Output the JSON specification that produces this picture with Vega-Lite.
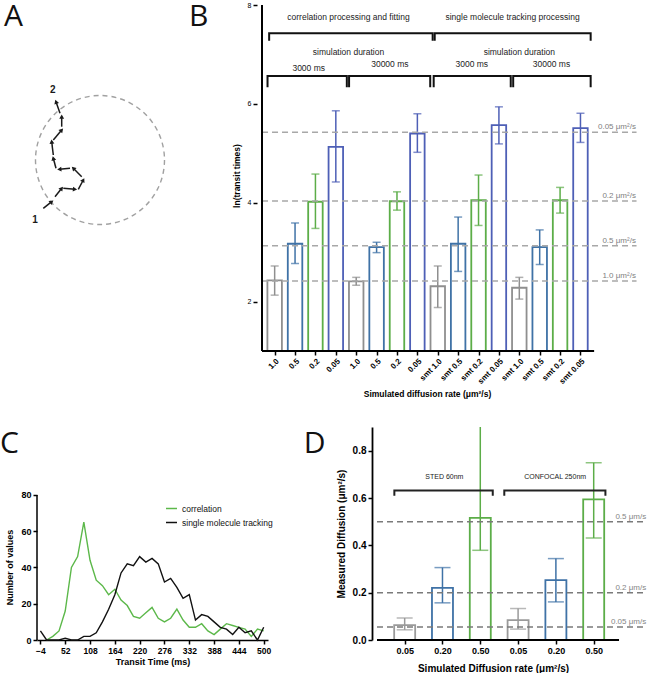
{
"$schema": "https://vega.github.io/schema/vega-lite/v6.json",
"padding": 0,
"autosize": {"type": "pad"},
"bounds": "full",
"spacing": 29,
"resolve": {"scale": {"color": "independent"}},
"config": {
  "view": {"stroke": null},
  "font": "Liberation Sans",
  "axis": {"grid": false, "domainColor": "#000", "domainWidth": 1.8, "tickColor": "#000", "tickWidth": 1.5, "tickSize": 4, "labelColor": "#000", "titleColor": "#000", "titleFontWeight": "bold", "labelPadding": 2, "labelOverlap": false}
},
"datasets": {
  "a_circle": [{"cx": 100, "cy": 160}],
  "a_arrows": [
    {"x1": 43.3, "y1": 208.3, "x2": 51.7, "y2": 201.7, "ang": 52},
    {"x1": 55, "y1": 196.7, "x2": 61.7, "y2": 188.3, "ang": 39},
    {"x1": 63.3, "y1": 188.3, "x2": 75, "y2": 189.3, "ang": 95},
    {"x1": 78.3, "y1": 189.3, "x2": 83.3, "y2": 180, "ang": 28},
    {"x1": 81.7, "y1": 176.7, "x2": 73.3, "y2": 168.3, "ang": -45},
    {"x1": 70, "y1": 168.3, "x2": 59.3, "y2": 169.3, "ang": -95},
    {"x1": 56, "y1": 168.3, "x2": 53.3, "y2": 158.3, "ang": -15},
    {"x1": 53.3, "y1": 155, "x2": 51.7, "y2": 141.7, "ang": -7},
    {"x1": 53.3, "y1": 140, "x2": 61.7, "y2": 130, "ang": 40},
    {"x1": 61.7, "y1": 126.7, "x2": 61.7, "y2": 116.7, "ang": 0},
    {"x1": 60, "y1": 113.3, "x2": 56, "y2": 101.7, "ang": -19}
  ],
  "a_labels": [{"x": 35, "y": 220, "t": "1"}, {"x": 52.7, "y": 90, "t": "2"}],
  "b_bars": [
    {"i": 0, "rate": "1.0", "v": 2.43, "lo": 2.13, "hi": 2.72},
    {"i": 1, "rate": "0.5", "v": 3.17, "lo": 2.77, "hi": 3.59},
    {"i": 2, "rate": "0.2", "v": 4.02, "lo": 3.48, "hi": 4.58},
    {"i": 3, "rate": "0.05", "v": 5.13, "lo": 4.42, "hi": 5.86},
    {"i": 4, "rate": "1.0", "v": 2.41, "lo": 2.33, "hi": 2.49},
    {"i": 5, "rate": "0.5", "v": 3.10, "lo": 2.99, "hi": 3.20},
    {"i": 6, "rate": "0.2", "v": 4.03, "lo": 3.85, "hi": 4.22},
    {"i": 7, "rate": "0.05", "v": 5.40, "lo": 5.02, "hi": 5.80},
    {"i": 8, "rate": "1.0", "v": 2.31, "lo": 1.88, "hi": 2.72},
    {"i": 9, "rate": "0.5", "v": 3.17, "lo": 2.61, "hi": 3.71},
    {"i": 10, "rate": "0.2", "v": 4.05, "lo": 3.54, "hi": 4.56},
    {"i": 11, "rate": "0.05", "v": 5.57, "lo": 5.19, "hi": 5.94},
    {"i": 12, "rate": "1.0", "v": 2.28, "lo": 2.05, "hi": 2.49},
    {"i": 13, "rate": "0.5", "v": 3.10, "lo": 2.75, "hi": 3.45},
    {"i": 14, "rate": "0.2", "v": 4.05, "lo": 3.79, "hi": 4.31},
    {"i": 15, "rate": "0.05", "v": 5.51, "lo": 5.22, "hi": 5.81}
  ],
  "b_ref": [
    {"v": 5.425, "lab": "0.05 μm²/s"},
    {"v": 4.035, "lab": "0.2 μm²/s"},
    {"v": 3.13, "lab": "0.5 μm²/s"},
    {"v": 2.415, "lab": "1.0 μm²/s"}
  ],
  "b_brackets": [
    {"g": 1, "k": 1, "x": -0.27, "y": 7.278}, {"g": 1, "k": 2, "x": -0.27, "y": 7.428}, {"g": 1, "k": 3, "x": 7.75, "y": 7.428}, {"g": 1, "k": 4, "x": 7.75, "y": 7.278},
    {"g": 2, "k": 1, "x": 7.85, "y": 7.278}, {"g": 2, "k": 2, "x": 7.85, "y": 7.428}, {"g": 2, "k": 3, "x": 15.5, "y": 7.428}, {"g": 2, "k": 4, "x": 15.5, "y": 7.278},
    {"g": 3, "k": 1, "x": -0.35, "y": 6.335}, {"g": 3, "k": 2, "x": -0.35, "y": 6.564}, {"g": 3, "k": 3, "x": 3.54, "y": 6.564}, {"g": 3, "k": 4, "x": 3.54, "y": 6.335},
    {"g": 4, "k": 1, "x": 3.65, "y": 6.335}, {"g": 4, "k": 2, "x": 3.65, "y": 6.564}, {"g": 4, "k": 3, "x": 7.63, "y": 6.564}, {"g": 4, "k": 4, "x": 7.63, "y": 6.335},
    {"g": 5, "k": 1, "x": 7.8, "y": 6.335}, {"g": 5, "k": 2, "x": 7.8, "y": 6.564}, {"g": 5, "k": 3, "x": 11.58, "y": 6.564}, {"g": 5, "k": 4, "x": 11.58, "y": 6.335},
    {"g": 6, "k": 1, "x": 11.7, "y": 6.335}, {"g": 6, "k": 2, "x": 11.7, "y": 6.564}, {"g": 6, "k": 3, "x": 15.5, "y": 6.564}, {"g": 6, "k": 4, "x": 15.5, "y": 6.335}
  ],
  "b_text": [
    {"x": 3.62, "y": 7.758, "t": "correlation processing and fitting"},
    {"x": 11.67, "y": 7.758, "t": "single molecule tracking processing"},
    {"x": 3.62, "y": 7.05, "t": "simulation duration"},
    {"x": 12.0, "y": 7.05, "t": "simulation duration"},
    {"x": 1.67, "y": 6.732, "t": "3000 ms"},
    {"x": 5.65, "y": 6.807, "t": "30000 ms"},
    {"x": 9.67, "y": 6.807, "t": "3000 ms"},
    {"x": 13.58, "y": 6.807, "t": "30000 ms"}
  ],
  "c_curve": [
    {"t": 10, "n": 0, "s": "correlation"}, {"t": 24, "n": 2, "s": "correlation"}, {"t": 38, "n": 5, "s": "correlation"}, {"t": 52, "n": 16, "s": "correlation"},
    {"t": 66, "n": 40, "s": "correlation"}, {"t": 80, "n": 46, "s": "correlation"}, {"t": 94, "n": 65, "s": "correlation"}, {"t": 108, "n": 44, "s": "correlation"},
    {"t": 122, "n": 33, "s": "correlation"}, {"t": 136, "n": 30, "s": "correlation"}, {"t": 150, "n": 25, "s": "correlation"}, {"t": 164, "n": 28, "s": "correlation"},
    {"t": 178, "n": 22, "s": "correlation"}, {"t": 192, "n": 19, "s": "correlation"}, {"t": 206, "n": 13, "s": "correlation"}, {"t": 220, "n": 12, "s": "correlation"},
    {"t": 234, "n": 15, "s": "correlation"}, {"t": 248, "n": 18, "s": "correlation"}, {"t": 262, "n": 12, "s": "correlation"}, {"t": 276, "n": 10, "s": "correlation"},
    {"t": 290, "n": 12, "s": "correlation"}, {"t": 304, "n": 17, "s": "correlation"}, {"t": 318, "n": 11, "s": "correlation"}, {"t": 332, "n": 7, "s": "correlation"},
    {"t": 346, "n": 7, "s": "correlation"}, {"t": 360, "n": 9, "s": "correlation"}, {"t": 374, "n": 5, "s": "correlation"}, {"t": 388, "n": 3, "s": "correlation"},
    {"t": 402, "n": 6, "s": "correlation"}, {"t": 416, "n": 9, "s": "correlation"}, {"t": 430, "n": 8, "s": "correlation"}, {"t": 444, "n": 7, "s": "correlation"},
    {"t": 458, "n": 6, "s": "correlation"}, {"t": 472, "n": 2, "s": "correlation"}, {"t": 486, "n": 6, "s": "correlation"}, {"t": 500, "n": 5, "s": "correlation"},
    {"t": -4, "n": 5, "s": "single molecule tracking"}, {"t": 10, "n": 0, "s": "single molecule tracking"}, {"t": 24, "n": 0, "s": "single molecule tracking"},
    {"t": 38, "n": 0, "s": "single molecule tracking"}, {"t": 52, "n": 1, "s": "single molecule tracking"}, {"t": 66, "n": 0, "s": "single molecule tracking"},
    {"t": 80, "n": 0, "s": "single molecule tracking"}, {"t": 94, "n": 2, "s": "single molecule tracking"}, {"t": 108, "n": 2, "s": "single molecule tracking"},
    {"t": 122, "n": 4, "s": "single molecule tracking"}, {"t": 136, "n": 10, "s": "single molecule tracking"}, {"t": 150, "n": 17, "s": "single molecule tracking"},
    {"t": 164, "n": 25, "s": "single molecule tracking"}, {"t": 178, "n": 37, "s": "single molecule tracking"}, {"t": 192, "n": 42, "s": "single molecule tracking"},
    {"t": 206, "n": 41, "s": "single molecule tracking"}, {"t": 220, "n": 46, "s": "single molecule tracking"}, {"t": 234, "n": 43, "s": "single molecule tracking"},
    {"t": 248, "n": 45, "s": "single molecule tracking"}, {"t": 262, "n": 42, "s": "single molecule tracking"}, {"t": 276, "n": 32, "s": "single molecule tracking"},
    {"t": 290, "n": 34, "s": "single molecule tracking"}, {"t": 304, "n": 29, "s": "single molecule tracking"}, {"t": 318, "n": 23, "s": "single molecule tracking"},
    {"t": 332, "n": 25, "s": "single molecule tracking"}, {"t": 346, "n": 11, "s": "single molecule tracking"}, {"t": 360, "n": 14, "s": "single molecule tracking"},
    {"t": 374, "n": 13, "s": "single molecule tracking"}, {"t": 388, "n": 10, "s": "single molecule tracking"}, {"t": 402, "n": 7, "s": "single molecule tracking"},
    {"t": 416, "n": 6, "s": "single molecule tracking"}, {"t": 430, "n": 3, "s": "single molecule tracking"}, {"t": 444, "n": 7, "s": "single molecule tracking"},
    {"t": 458, "n": 4, "s": "single molecule tracking"}, {"t": 472, "n": 5, "s": "single molecule tracking"}, {"t": 486, "n": 0, "s": "single molecule tracking"},
    {"t": 500, "n": 7, "s": "single molecule tracking"}
  ],
  "d_bars": [
    {"i": 0, "rate": "0.05", "v": 0.063, "lo": 0.043, "hi": 0.093},
    {"i": 1, "rate": "0.20", "v": 0.220, "lo": 0.157, "hi": 0.306},
    {"i": 2, "rate": "0.50", "v": 0.516, "lo": 0.379, "hi": 0.95},
    {"i": 3, "rate": "0.05", "v": 0.084, "lo": 0.046, "hi": 0.133},
    {"i": 4, "rate": "0.20", "v": 0.253, "lo": 0.161, "hi": 0.344},
    {"i": 5, "rate": "0.50", "v": 0.594, "lo": 0.431, "hi": 0.749}
  ],
  "d_ref": [
    {"v": 0.5, "lab": "0.5 μm/s"},
    {"v": 0.2, "lab": "0.2 μm/s"},
    {"v": 0.055, "lab": "0.05 μm/s"}
  ],
  "d_brackets": [
    {"g": 1, "k": 1, "x": -0.273, "y": 0.609}, {"g": 1, "k": 2, "x": -0.273, "y": 0.632}, {"g": 1, "k": 3, "x": 2.33, "y": 0.632}, {"g": 1, "k": 4, "x": 2.33, "y": 0.609},
    {"g": 2, "k": 1, "x": 2.635, "y": 0.609}, {"g": 2, "k": 2, "x": 2.635, "y": 0.632}, {"g": 2, "k": 3, "x": 5.31, "y": 0.632}, {"g": 2, "k": 4, "x": 5.31, "y": 0.609}
  ],
  "d_text": [
    {"x": 1.05, "y": 0.689, "t": "STED  60nm"},
    {"x": 3.98, "y": 0.689, "t": "CONFOCAL 250nm"}
  ]
},
"vconcat": [
  {
    "bounds": "flush",
    "spacing": 87,
    "resolve": {"scale": {"color": "independent"}},
    "hconcat": [
      {
        "width": 170,
        "height": 300,
        "layer": [
          {
            "data": {"name": "a_circle"},
            "mark": {"type": "point", "shape": "circle", "size": 16641, "filled": false, "stroke": "#7a7a7a", "strokeWidth": 1.4, "strokeDash": [5, 4]},
            "encoding": {
              "x": {"field": "cx", "type": "quantitative", "scale": {"domain": [0, 170], "nice": false, "zero": false}, "axis": null},
              "y": {"field": "cy", "type": "quantitative", "scale": {"domain": [0, 300], "nice": false, "zero": false, "reverse": true}, "axis": null}
            }
          },
          {
            "data": {"name": "a_arrows"},
            "mark": {"type": "rule", "color": "#1a1a1a", "strokeWidth": 1.5},
            "encoding": {
              "x": {"field": "x1", "type": "quantitative"},
              "y": {"field": "y1", "type": "quantitative"},
              "x2": {"field": "x2"},
              "y2": {"field": "y2"}
            }
          },
          {
            "data": {"name": "a_arrows"},
            "mark": {"type": "point", "shape": "triangle-up", "filled": true, "size": 24, "color": "#1a1a1a", "opacity": 1},
            "encoding": {
              "x": {"field": "x2", "type": "quantitative"},
              "y": {"field": "y2", "type": "quantitative"},
              "angle": {"field": "ang", "type": "quantitative", "scale": null}
            }
          },
          {
            "data": {"name": "a_labels"},
            "mark": {"type": "text", "fontWeight": "bold", "fontSize": 10, "color": "#1a1a1a"},
            "encoding": {
              "x": {"field": "x", "type": "quantitative"},
              "y": {"field": "y", "type": "quantitative"},
              "text": {"field": "t"}
            }
          },
          {
            "data": {"values": [{"t": "A"}]},
            "mark": {"type": "text", "fontSize": 30, "align": "left", "baseline": "top", "font": "Open Sans", "color": "#111"},
            "encoding": {"x": {"datum": 4}, "y": {"datum": 2}, "text": {"field": "t"}}
          }
        ]
      },
      {
        "width": 388,
        "height": 351,
        "layer": [
          {
            "data": {"name": "b_bars"},
            "mark": {"type": "bar", "filled": false, "width": 14.5, "strokeWidth": 1.8},
            "encoding": {
              "x": {"field": "i", "type": "quantitative", "scale": {"domain": [-0.621, 17.92], "nice": false, "zero": false},
                "axis": {"values": [0,1,2,3,4,5,6,7,8,9,10,11,12,13,14,15], "tickCount": 40, "labelOverlap": false, "domain": false, "labelAngle": -45, "labelFontWeight": "bold", "labelFontSize": 8,
                  "labelExpr": "['1.0','0.5','0.2','0.05','1.0','0.5','0.2','0.05','smt 1.0','smt 0.5','smt 0.2','smt 0.05','smt 1.0','smt 0.5','smt 0.2','smt 0.05'][datum.value]",
                  "title": "Simulated diffusion rate (μm²/s)", "titleFontSize": 8.5, "titleX": 170, "titlePadding": 4}},
              "y": {"field": "v", "type": "quantitative", "scale": {"domain": [1, 8.1015], "nice": false, "zero": false},
                "axis": {"values": [2, 4, 6, 8], "domain": false, "labelFontSize": 7, "title": "ln(transit times)", "titleFontSize": 8.5, "titlePadding": 6}},
              "y2": {"datum": 1},
              "color": {"field": "rate", "type": "nominal", "scale": {"domain": ["1.0", "0.5", "0.2", "0.05"], "range": ["#8f8f8f", "#3f72a6", "#5cad48", "#4e5fb6"]}, "legend": null}
            }
          },
          {
            "data": {"name": "b_bars"},
            "mark": {"type": "rule", "strokeWidth": 1.5},
            "encoding": {
              "x": {"field": "i", "type": "quantitative"},
              "y": {"field": "lo", "type": "quantitative"},
              "y2": {"field": "hi"},
              "color": {"field": "rate", "type": "nominal", "legend": null}
            }
          },
          {
            "data": {"name": "b_bars"},
            "transform": [{"fold": ["lo", "hi"], "as": ["k", "val"]}],
            "mark": {"type": "tick", "orient": "horizontal", "size": 8, "thickness": 1.5},
            "encoding": {
              "x": {"field": "i", "type": "quantitative"},
              "y": {"field": "val", "type": "quantitative"},
              "color": {"field": "rate", "type": "nominal", "legend": null}
            }
          },
          {
            "data": {"name": "b_ref"},
            "mark": {"type": "rule", "strokeDash": [6, 4], "color": "#a8a8a8", "strokeWidth": 1.6},
            "encoding": {"y": {"field": "v", "type": "quantitative"}, "x": {"datum": -0.62}, "x2": {"datum": 17.75}}
          },
          {
            "data": {"name": "b_ref"},
            "mark": {"type": "text", "align": "right", "baseline": "bottom", "dy": -1, "fontSize": 8, "color": "#808080"},
            "encoding": {"y": {"field": "v", "type": "quantitative"}, "x": {"datum": 17.72}, "text": {"field": "lab"}}
          },
          {
            "data": {"values": [{"a": 1}]},
            "mark": {"type": "rule", "color": "#000", "strokeWidth": 2},
            "encoding": {"x": {"datum": -0.621}, "y": {"datum": 1}, "y2": {"datum": 8}}
          },
          {
            "data": {"values": [{"a": 1}]},
            "mark": {"type": "rule", "color": "#000", "strokeWidth": 2},
            "encoding": {"x": {"datum": -0.621}, "x2": {"datum": 15.67}, "y": {"datum": 1}}
          },
          {
            "data": {"name": "b_brackets"},
            "mark": {"type": "line", "color": "#111", "strokeWidth": 2},
            "encoding": {
              "x": {"field": "x", "type": "quantitative"},
              "y": {"field": "y", "type": "quantitative"},
              "detail": {"field": "g"},
              "order": {"field": "k"}
            }
          },
          {
            "data": {"name": "b_text"},
            "mark": {"type": "text", "fontSize": 8.5, "color": "#222"},
            "encoding": {
              "x": {"field": "x", "type": "quantitative"},
              "y": {"field": "y", "type": "quantitative"},
              "text": {"field": "t"}
            }
          },
          {
            "data": {"values": [{"t": "B"}]},
            "mark": {"type": "text", "fontSize": 30, "align": "left", "baseline": "top", "font": "Open Sans", "color": "#111"},
            "encoding": {"x": {"datum": -4.2}, "y": {"datum": 8.06}, "text": {"field": "t"}}
          }
        ]
      }
    ]
  },
  {
    "bounds": "flush",
    "spacing": 0,
    "resolve": {"scale": {"color": "independent"}},
    "hconcat": [
      {
        "width": 37,
        "height": 10,
        "data": {"values": [{"a": 1}]},
        "mark": {"type": "point", "opacity": 0}
      },
      {
        "bounds": "flush",
        "spacing": 104,
        "resolve": {"scale": {"color": "independent"}},
        "hconcat": [
          {
            "width": 231,
            "height": 213,
            "layer": [
              {
                "data": {"name": "c_curve"},
                "mark": {"type": "line", "strokeWidth": 1.4},
                "encoding": {
                  "x": {"field": "t", "type": "quantitative", "scale": {"domain": [-11.7, 509.7], "nice": false, "zero": false},
                    "axis": {"values": [-4, 52, 108, 164, 220, 276, 332, 388, 444, 500], "tickCount": 30, "labelOverlap": false, "labelFontWeight": "bold", "labelFontSize": 8.5, "domainWidth": 1.5, "title": "Transit Time (ms)", "titleFontSize": 9, "titlePadding": 3}},
                  "y": {"field": "n", "type": "quantitative", "scale": {"domain": [0, 117.5], "nice": false, "zero": false},
                    "axis": {"values": [0, 20, 40, 60, 80], "domain": false, "labelFontWeight": "bold", "labelFontSize": 9, "title": "Number of values", "titleFontSize": 9, "titleY": 140, "titlePadding": 6}},
                  "color": {"field": "s", "type": "nominal", "scale": {"domain": ["correlation", "single molecule tracking"], "range": ["#5cb84a", "#111111"]},
                    "legend": {"orient": "none", "legendX": 128, "legendY": 75, "title": null, "symbolType": "stroke", "symbolSize": 120, "symbolStrokeWidth": 1.5, "labelFontSize": 8.5, "labelColor": "#111", "rowPadding": 3}}
                }
              },
              {
                "data": {"values": [{"a": 1}]},
                "mark": {"type": "rule", "color": "#000", "strokeWidth": 1.5},
                "encoding": {"x": {"datum": -11.7}, "y": {"datum": 0}, "y2": {"datum": 80}}
              },
              {
                "data": {"values": [{"t": "C"}]},
                "mark": {"type": "text", "fontSize": 30, "align": "left", "baseline": "top", "font": "Open Sans", "color": "#111"},
                "encoding": {"x": {"datum": -95}, "y": {"datum": 116.4}, "text": {"field": "t"}}
              }
            ]
          },
          {
            "width": 280,
            "height": 213,
            "layer": [
              {
                "data": {"name": "d_bars"},
                "mark": {"type": "bar", "filled": false, "width": 21, "strokeWidth": 1.8},
                "encoding": {
                  "x": {"field": "i", "type": "quantitative", "scale": {"domain": [-0.732, 6.41], "nice": false, "zero": false},
                    "axis": {"values": [0, 1, 2, 3, 4, 5], "tickCount": 20, "labelOverlap": false, "domain": false, "labelFontWeight": "bold", "labelFontSize": 9,
                      "labelExpr": "['0.05','0.20','0.50','0.05','0.20','0.50'][datum.value]",
                      "title": "Simulated Diffusion rate  (μm²/s)", "titleFontSize": 10, "titleX": 121, "titlePadding": 8}},
                  "y": {"field": "v", "type": "quantitative", "scale": {"domain": [0, 0.9], "nice": false},
                    "axis": {"values": [0, 0.2, 0.4, 0.6, 0.8], "format": ".1f", "labelFontWeight": "bold", "labelFontSize": 10, "title": "Measured Diffusion (μm²/s)", "titleFontSize": 10, "titlePadding": 6}},
                  "color": {"field": "rate", "type": "nominal", "scale": {"domain": ["0.05", "0.20", "0.50"], "range": ["#9a9a9a", "#3f72a6", "#5cad48"]}, "legend": null}
                }
              },
              {
                "data": {"name": "d_bars"},
                "mark": {"type": "rule", "strokeWidth": 1.5, "clip": true},
                "encoding": {
                  "x": {"field": "i", "type": "quantitative"},
                  "y": {"field": "lo", "type": "quantitative"},
                  "y2": {"field": "hi"},
                  "color": {"field": "rate", "type": "nominal", "legend": null}
                }
              },
              {
                "data": {"name": "d_bars"},
                "transform": [{"fold": ["lo", "hi"], "as": ["k", "val"]}],
                "mark": {"type": "tick", "orient": "horizontal", "size": 16, "thickness": 1.5, "clip": true},
                "encoding": {
                  "x": {"field": "i", "type": "quantitative"},
                  "y": {"field": "val", "type": "quantitative"},
                  "color": {"field": "rate", "type": "nominal", "legend": null}
                }
              },
              {
                "data": {"name": "d_ref"},
                "mark": {"type": "rule", "strokeDash": [6, 4], "color": "#7a7a7a", "strokeWidth": 1.5},
                "encoding": {"y": {"field": "v", "type": "quantitative"}, "x": {"datum": -0.732}, "x2": {"datum": 6.41}}
              },
              {
                "data": {"name": "d_ref"},
                "mark": {"type": "text", "align": "right", "baseline": "bottom", "dy": -1, "fontSize": 8, "color": "#858585"},
                "encoding": {"y": {"field": "v", "type": "quantitative"}, "x": {"datum": 6.39}, "text": {"field": "lab"}}
              },
              {
                "data": {"values": [{"a": 1}]},
                "mark": {"type": "rule", "color": "#000", "strokeWidth": 1.8},
                "encoding": {"x": {"datum": -0.732}, "x2": {"datum": 5.67}, "y": {"datum": 0}}
              },
              {
                "data": {"name": "d_brackets"},
                "mark": {"type": "line", "color": "#222", "strokeWidth": 2},
                "encoding": {
                  "x": {"field": "x", "type": "quantitative"},
                  "y": {"field": "y", "type": "quantitative"},
                  "detail": {"field": "g"},
                  "order": {"field": "k"}
                }
              },
              {
                "data": {"name": "d_text"},
                "mark": {"type": "text", "fontSize": 7, "color": "#222"},
                "encoding": {
                  "x": {"field": "x", "type": "quantitative"},
                  "y": {"field": "y", "type": "quantitative"},
                  "text": {"field": "t"}
                }
              },
              {
                "data": {"values": [{"t": "D"}]},
                "mark": {"type": "text", "fontSize": 30, "align": "left", "baseline": "top", "font": "Open Sans", "color": "#111"},
                "encoding": {"x": {"datum": -2.67}, "y": {"datum": 0.8916}, "text": {"field": "t"}}
              }
            ]
          }
        ]
      }
    ]
  }
]
}
